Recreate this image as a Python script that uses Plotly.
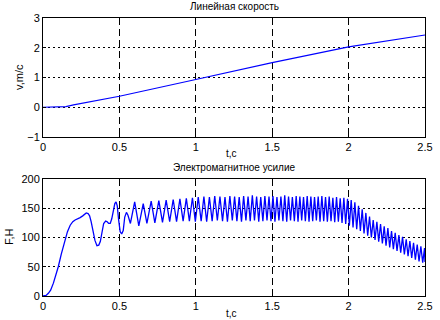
import plotly.graph_objects as go

# ---- data: linear speed ----
v_t = [0, 0.12, 0.15, 0.2, 0.5, 1.0, 1.5, 2.0, 2.2, 2.5]
v_val = [0, 0, 0.02, 0.08, 0.37, 0.93, 1.50, 2.03, 2.2, 2.43]

# ---- data: electromagnetic force ----
early_t = [0, 0.02, 0.035, 0.05, 0.068, 0.085, 0.10, 0.12, 0.145, 0.16,
           0.178, 0.195, 0.21, 0.23, 0.243, 0.26, 0.283, 0.295, 0.305, 0.315,
           0.327, 0.34, 0.353, 0.365, 0.375, 0.385, 0.397, 0.41, 0.42, 0.43,
           0.44, 0.45, 0.46, 0.47, 0.478, 0.486, 0.495, 0.505, 0.515, 0.525,
           0.535, 0.546, 0.556, 0.565, 0.572]
early_v = [0, 1, 4.6, 10, 22, 35, 50, 72, 99, 110,
           121, 127, 130, 132, 134, 137, 142, 141, 137, 127,
           113, 95, 86, 87, 93, 107, 124, 128, 127, 124,
           124, 132, 148, 158, 161, 154, 130, 110, 106, 112,
           135, 143, 138, 127, 124]

peak_t = [0.600, 0.656, 0.708, 0.758, 0.806, 0.852, 0.896, 0.938, 0.978, 1.016,
          1.053, 1.089, 1.124, 1.158, 1.191, 1.223, 1.254, 1.284, 1.313, 1.342,
          1.370, 1.398, 1.425, 1.452, 1.479, 1.505, 1.531, 1.557, 1.582, 1.607,
          1.632, 1.657, 1.681, 1.705, 1.729, 1.753, 1.777, 1.801, 1.825, 1.849,
          1.873, 1.897, 1.921, 1.945, 1.969, 1.993, 2.017, 2.041, 2.065, 2.089,
          2.113, 2.137, 2.161, 2.185, 2.209, 2.233, 2.257, 2.281, 2.305, 2.329,
          2.353, 2.377, 2.401, 2.425, 2.449, 2.473, 2.497]
peak_v = [161, 158, 162, 163, 164, 165, 166, 167, 168, 169,
          170, 169, 171, 170, 169, 171, 170, 169, 171, 170,
          172, 170, 169, 171, 170, 171, 169, 170, 172, 170,
          169, 171, 170, 169, 171, 170, 169, 170, 171, 169,
          170, 168, 169, 167, 168, 166, 164, 160, 154, 148,
          142, 136, 130, 127, 123, 119, 116, 111, 108, 104,
          101, 97, 94, 91, 88, 85, 82]

trough_t = [0.627, 0.680, 0.732, 0.782, 0.829, 0.874, 0.917, 0.958, 0.997, 1.035,
            1.071, 1.107, 1.141, 1.175, 1.207, 1.239, 1.269, 1.299, 1.328, 1.356,
            1.384, 1.412, 1.439, 1.466, 1.492, 1.518, 1.544, 1.570, 1.595, 1.620,
            1.645, 1.669, 1.693, 1.717, 1.741, 1.765, 1.789, 1.813, 1.837, 1.861,
            1.885, 1.909, 1.933, 1.957, 1.981, 2.005, 2.029, 2.053, 2.077, 2.101,
            2.125, 2.149, 2.173, 2.197, 2.221, 2.245, 2.269, 2.293, 2.317, 2.341,
            2.365, 2.389, 2.413, 2.437, 2.461, 2.485, 2.5]
trough_v = [120, 124, 125, 126, 127, 127, 128, 128, 127, 128,
            127, 128, 129, 128, 127, 129, 128, 127, 129, 128,
            129, 127, 128, 129, 128, 127, 129, 128, 127, 129,
            128, 127, 129, 128, 127, 128, 129, 127, 128, 127,
            128, 126, 127, 125, 123, 120, 117, 114, 111, 107,
            103, 100, 96, 93, 90, 86, 83, 80, 77, 74,
            71, 68, 65, 62, 59, 57, 58]

x_ticks = [0, 0.5, 1, 1.5, 2, 2.5]
x_ticklabels = ["0", "0.5", "1", "1.5", "2", "2.5"]
v_ticks = [-1, 0, 1, 2, 3]
f_ticks = [0, 50, 100, 150, 200]

title_top = "Линейная скорость"
title_bot = "Электромагнитное усилие"
xlabel = "t,c"
ylabel_top = "v,m/c"
ylabel_bot = "F,H"

# merge force points in time order
pts = list(zip(early_t, early_v, strict=True))
pts += list(zip(peak_t, peak_v, strict=True))
pts += list(zip(trough_t, trough_v, strict=True))
pts.sort(key=lambda p: p[0])
f_t = [p[0] for p in pts]
f_v = [p[1] for p in pts]

W, H = 440, 320
xl, xr = 43 / W, 425 / W
top_dom = [1 - 137 / H, 1 - 18 / H]
bot_dom = [1 - 296 / H, 1 - 179 / H]

FONT = "Liberation Sans, Arial, sans-serif"
BLUE = "#0000ff"

fig = go.Figure()
fig.add_trace(go.Scatter(x=v_t, y=v_val, mode="lines", line=dict(color=BLUE, width=1.1),
                         xaxis="x", yaxis="y", showlegend=False, hoverinfo="skip"))
fig.add_trace(go.Scatter(x=f_t, y=f_v, mode="lines", line=dict(color=BLUE, width=1.3),
                         xaxis="x2", yaxis="y2", showlegend=False, hoverinfo="skip"))

xcommon = dict(range=[0, 2.5], tickvals=x_ticks, ticktext=x_ticklabels,
               showgrid=True, gridcolor="black", gridwidth=1, griddash="7px,4px",
               showline=True, linecolor="black", linewidth=1, mirror="ticks",
               ticks="inside", ticklen=3, tickcolor="black", zeroline=False,
               automargin=False,
               tickfont=dict(family=FONT, size=11, color="black"))
ycommon = dict(showgrid=True, gridcolor="black", gridwidth=1, griddash="2px,3px",
               showline=True, linecolor="black", linewidth=1, mirror="ticks",
               ticks="inside", ticklen=3, tickcolor="black", zeroline=False,
               automargin=False,
               tickfont=dict(family=FONT, size=11, color="black"))

fig.update_layout(
    width=W, height=H,
    margin=dict(l=0, r=0, t=0, b=0, autoexpand=False),
    paper_bgcolor="white", plot_bgcolor="white",
    xaxis=dict(domain=[xl, xr], anchor="y", **xcommon),
    yaxis=dict(domain=top_dom, anchor="x", range=[-1, 3], tickvals=v_ticks, **ycommon),
    xaxis2=dict(domain=[xl, xr], anchor="y2", **xcommon),
    yaxis2=dict(domain=bot_dom, anchor="x2", range=[0, 200], tickvals=f_ticks, **ycommon),
)

def ann(text, x, y, size=10, angle=0):
    fig.add_annotation(text=text, x=x / W, y=1 - y / H, xref="paper", yref="paper",
                       showarrow=False, textangle=angle, xanchor="center", yanchor="middle",
                       font=dict(family=FONT, size=size, color="black"))

ann(title_top, 234, 7, size=10)
ann(title_bot, 234, 167, size=10)
ann(xlabel, 231, 153, size=10)
ann(xlabel, 231, 313, size=10)
ann(ylabel_top, 19, 77, size=11, angle=-90)
ann(ylabel_bot, 9, 237, size=11, angle=-90)

fig.write_html("out.html", config={"displayModeBar": False},
               post_script="document.body.style.margin='0';document.body.style.overflow='hidden';")
